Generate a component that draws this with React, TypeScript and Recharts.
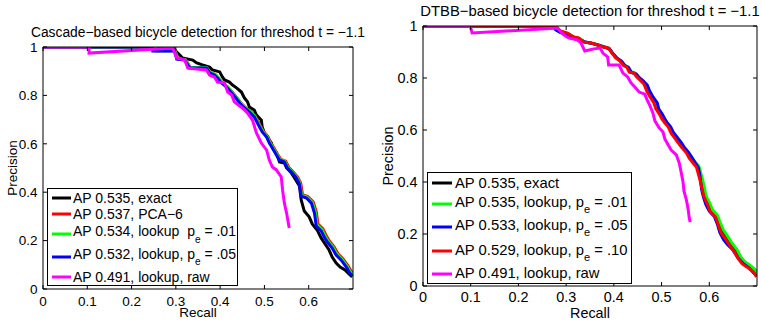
import React from 'react';
import { LineChart, Line, XAxis, YAxis } from 'recharts';

type Pt = { r: number; p: number };
const mk = (a: number[][]): Pt[] => a.map(([r, p]) => ({ r, p }));

// ---------- tick labels ----------
const xTicks = [0, 0.1, 0.2, 0.3, 0.4, 0.5, 0.6];
const yTicks = [0, 0.2, 0.4, 0.6, 0.8, 1];

// ---------- left chart (Cascade) ----------
const leftExact = mk([
  [0, 1], [0.293, 1], [0.302, 0.979], [0.309, 0.967], [0.315, 0.955], [0.338, 0.946], [0.347, 0.934],
  [0.36, 0.926], [0.376, 0.917], [0.383, 0.905], [0.399, 0.897], [0.405, 0.876], [0.41, 0.864],
  [0.421, 0.855], [0.428, 0.843], [0.437, 0.831], [0.448, 0.814], [0.455, 0.789], [0.462, 0.773],
  [0.466, 0.752], [0.477, 0.74], [0.482, 0.719], [0.493, 0.698], [0.495, 0.669], [0.5, 0.645],
  [0.507, 0.624], [0.516, 0.603], [0.518, 0.583], [0.527, 0.562], [0.534, 0.525], [0.545, 0.521],
  [0.55, 0.5], [0.561, 0.479], [0.568, 0.459], [0.579, 0.426], [0.583, 0.368], [0.59, 0.322],
  [0.601, 0.298], [0.608, 0.269], [0.619, 0.244], [0.628, 0.211], [0.637, 0.186], [0.646, 0.161],
  [0.653, 0.132], [0.662, 0.107], [0.671, 0.091], [0.682, 0.079], [0.691, 0.062], [0.698, 0.05],
]);
const leftPca = mk([
  [0, 1], [0.255, 1], [0.255, 0.985], [0.299, 0.985], [0.304, 0.952], [0.322, 0.947], [0.333, 0.915],
  [0.37, 0.914], [0.378, 0.894], [0.389, 0.886], [0.396, 0.873], [0.405, 0.852], [0.416, 0.836],
  [0.428, 0.812], [0.439, 0.787], [0.448, 0.766], [0.457, 0.75], [0.469, 0.733], [0.48, 0.713],
  [0.492, 0.671], [0.498, 0.651], [0.508, 0.63], [0.514, 0.605], [0.521, 0.585], [0.53, 0.556],
  [0.537, 0.536], [0.548, 0.528], [0.555, 0.503], [0.564, 0.486], [0.575, 0.462], [0.582, 0.437],
  [0.586, 0.39], [0.598, 0.382], [0.61, 0.36], [0.617, 0.32], [0.621, 0.268], [0.632, 0.248],
  [0.639, 0.222], [0.646, 0.2], [0.657, 0.175], [0.666, 0.146], [0.677, 0.125], [0.689, 0.096],
  [0.695, 0.076], [0.7, 0.062],
]);
const leftLookup01 = mk([
  [0, 1], [0.252, 1], [0.252, 0.984], [0.298, 0.984], [0.303, 0.953], [0.321, 0.948], [0.332, 0.916],
  [0.369, 0.915], [0.377, 0.895], [0.388, 0.887], [0.395, 0.874], [0.404, 0.854], [0.415, 0.838],
  [0.427, 0.813], [0.438, 0.788], [0.447, 0.767], [0.456, 0.751], [0.467, 0.734], [0.478, 0.714],
  [0.49, 0.672], [0.496, 0.652], [0.506, 0.631], [0.512, 0.606], [0.519, 0.586], [0.528, 0.557],
  [0.535, 0.536], [0.546, 0.528], [0.553, 0.503], [0.562, 0.486], [0.573, 0.462], [0.58, 0.437],
  [0.584, 0.388], [0.596, 0.38], [0.608, 0.358], [0.615, 0.318], [0.619, 0.265], [0.63, 0.245],
  [0.637, 0.219], [0.644, 0.198], [0.655, 0.173], [0.664, 0.144], [0.675, 0.123], [0.687, 0.094],
  [0.693, 0.073], [0.7, 0.06],
]);
const leftLookup05 = mk([
  [0, 1], [0.248, 1], [0.248, 0.983], [0.297, 0.983], [0.302, 0.95], [0.32, 0.946], [0.331, 0.913],
  [0.369, 0.913], [0.376, 0.893], [0.387, 0.884], [0.394, 0.872], [0.403, 0.851], [0.414, 0.835],
  [0.426, 0.81], [0.437, 0.785], [0.446, 0.764], [0.455, 0.748], [0.466, 0.731], [0.477, 0.711],
  [0.489, 0.669], [0.495, 0.649], [0.505, 0.628], [0.511, 0.603], [0.518, 0.583], [0.527, 0.554],
  [0.534, 0.533], [0.545, 0.525], [0.552, 0.5], [0.561, 0.483], [0.572, 0.459], [0.579, 0.434],
  [0.583, 0.384], [0.595, 0.376], [0.606, 0.355], [0.613, 0.314], [0.617, 0.26], [0.628, 0.24],
  [0.635, 0.215], [0.642, 0.194], [0.653, 0.169], [0.662, 0.14], [0.673, 0.12], [0.685, 0.091],
  [0.691, 0.07], [0.698, 0.054],
]);
const leftRaw = mk([
  [0, 1], [0.104, 1], [0.104, 0.975], [0.293, 0.996], [0.302, 0.955], [0.32, 0.946], [0.327, 0.913],
  [0.369, 0.905], [0.376, 0.884], [0.387, 0.876], [0.394, 0.855], [0.41, 0.851], [0.417, 0.814],
  [0.426, 0.802], [0.432, 0.773], [0.45, 0.748], [0.462, 0.727], [0.473, 0.698], [0.482, 0.645],
  [0.493, 0.603], [0.505, 0.574], [0.511, 0.533], [0.518, 0.504], [0.527, 0.492], [0.538, 0.463],
  [0.541, 0.409], [0.545, 0.355], [0.55, 0.314], [0.554, 0.273], [0.556, 0.252],
]);

// ---------- right chart (DTBB) ----------
const rightExact = mk([
  [0, 1], [0.275, 1], [0.282, 0.983], [0.293, 0.974], [0.304, 0.968], [0.315, 0.958], [0.327, 0.951],
  [0.338, 0.939], [0.352, 0.935], [0.367, 0.927], [0.38, 0.918], [0.39, 0.913], [0.397, 0.895],
  [0.405, 0.877], [0.415, 0.864], [0.421, 0.85], [0.429, 0.842], [0.434, 0.823], [0.444, 0.818],
  [0.451, 0.803], [0.458, 0.792], [0.466, 0.776], [0.472, 0.751], [0.479, 0.727], [0.487, 0.704],
  [0.492, 0.681], [0.499, 0.662], [0.505, 0.643], [0.511, 0.628], [0.517, 0.612], [0.523, 0.589],
  [0.529, 0.573], [0.538, 0.551], [0.544, 0.536], [0.554, 0.513], [0.56, 0.494], [0.568, 0.475],
  [0.575, 0.459], [0.579, 0.433], [0.583, 0.406], [0.587, 0.375], [0.591, 0.345], [0.598, 0.318],
  [0.606, 0.288], [0.616, 0.271], [0.621, 0.24], [0.628, 0.208], [0.637, 0.186], [0.645, 0.162],
  [0.656, 0.135], [0.664, 0.11], [0.673, 0.092], [0.685, 0.078], [0.695, 0.063], [0.7, 0.052],
]);
const rightLookup01 = mk([
  [0, 1], [0.28, 1], [0.285, 0.982], [0.296, 0.975], [0.305, 0.97], [0.316, 0.957], [0.328, 0.952],
  [0.339, 0.938], [0.353, 0.934], [0.368, 0.927], [0.38, 0.92], [0.39, 0.914], [0.397, 0.895],
  [0.405, 0.878], [0.414, 0.866], [0.42, 0.852], [0.429, 0.843], [0.434, 0.825], [0.444, 0.819],
  [0.45, 0.805], [0.457, 0.793], [0.465, 0.777], [0.471, 0.752], [0.478, 0.728], [0.486, 0.706],
  [0.491, 0.683], [0.498, 0.664], [0.504, 0.645], [0.51, 0.63], [0.517, 0.614], [0.524, 0.592],
  [0.53, 0.576], [0.539, 0.553], [0.545, 0.538], [0.556, 0.515], [0.562, 0.497], [0.57, 0.478],
  [0.578, 0.462], [0.582, 0.436], [0.586, 0.408], [0.59, 0.377], [0.593, 0.347], [0.6, 0.322],
  [0.607, 0.292], [0.617, 0.272], [0.623, 0.243], [0.63, 0.214], [0.639, 0.19], [0.647, 0.166],
  [0.658, 0.14], [0.666, 0.112], [0.674, 0.094], [0.686, 0.078], [0.696, 0.062], [0.7, 0.05],
]);
const rightLookup05 = mk([
  [0, 1], [0.271, 1], [0.278, 0.985], [0.288, 0.975], [0.301, 0.97], [0.314, 0.957], [0.326, 0.95],
  [0.337, 0.94], [0.352, 0.934], [0.366, 0.927], [0.381, 0.919], [0.391, 0.912], [0.398, 0.894],
  [0.407, 0.876], [0.416, 0.865], [0.423, 0.848], [0.431, 0.84], [0.437, 0.821], [0.447, 0.815],
  [0.454, 0.8], [0.461, 0.79], [0.47, 0.773], [0.475, 0.75], [0.482, 0.727], [0.491, 0.704],
  [0.494, 0.681], [0.501, 0.662], [0.507, 0.642], [0.512, 0.627], [0.519, 0.612], [0.525, 0.59],
  [0.532, 0.573], [0.541, 0.552], [0.547, 0.535], [0.556, 0.515], [0.563, 0.496], [0.57, 0.475],
  [0.577, 0.455], [0.58, 0.43], [0.582, 0.4], [0.584, 0.37], [0.588, 0.34], [0.593, 0.313],
  [0.6, 0.288], [0.611, 0.266], [0.617, 0.238], [0.622, 0.206], [0.63, 0.178], [0.638, 0.16],
  [0.649, 0.14], [0.66, 0.108], [0.67, 0.088], [0.683, 0.07], [0.693, 0.05], [0.699, 0.04],
]);
const rightLookup10 = mk([
  [0, 1], [0.278, 1], [0.288, 0.981], [0.303, 0.973], [0.316, 0.958], [0.326, 0.954], [0.337, 0.938],
  [0.352, 0.935], [0.366, 0.927], [0.379, 0.919], [0.389, 0.915], [0.396, 0.896], [0.404, 0.877],
  [0.413, 0.865], [0.419, 0.85], [0.427, 0.842], [0.432, 0.823], [0.442, 0.819], [0.448, 0.804],
  [0.455, 0.792], [0.463, 0.777], [0.469, 0.75], [0.476, 0.727], [0.484, 0.704], [0.488, 0.681],
  [0.495, 0.662], [0.501, 0.642], [0.507, 0.627], [0.514, 0.612], [0.52, 0.588], [0.526, 0.573],
  [0.535, 0.55], [0.541, 0.535], [0.552, 0.512], [0.558, 0.492], [0.566, 0.473], [0.573, 0.458],
  [0.577, 0.431], [0.581, 0.404], [0.585, 0.373], [0.589, 0.342], [0.596, 0.315], [0.602, 0.285],
  [0.613, 0.265], [0.619, 0.235], [0.625, 0.204], [0.634, 0.181], [0.642, 0.158], [0.653, 0.131],
  [0.661, 0.104], [0.669, 0.085], [0.682, 0.069], [0.693, 0.054], [0.699, 0.035],
]);
const rightRaw = mk([
  [0, 1], [0.099, 1], [0.103, 0.973], [0.282, 0.992], [0.293, 0.969], [0.305, 0.954], [0.324, 0.946],
  [0.331, 0.935], [0.339, 0.904], [0.358, 0.912], [0.371, 0.915], [0.377, 0.896], [0.387, 0.881],
  [0.389, 0.85], [0.411, 0.85], [0.419, 0.819], [0.429, 0.804], [0.436, 0.781], [0.444, 0.765],
  [0.453, 0.746], [0.465, 0.738], [0.469, 0.719], [0.476, 0.692], [0.482, 0.665], [0.486, 0.635],
  [0.495, 0.608], [0.503, 0.592], [0.507, 0.565], [0.514, 0.542], [0.52, 0.523], [0.531, 0.504],
  [0.537, 0.473], [0.541, 0.438], [0.545, 0.4], [0.547, 0.365], [0.552, 0.331], [0.556, 0.292],
  [0.558, 0.262], [0.56, 0.246],
]);

const FONT = '"Liberation Sans", Arial, Helvetica, sans-serif';
const fmt = (v: number) => String(v);

type Series = { data: Pt[]; color: string };

const BottomTick = (props: any) => {
  const { x, y, payload, fs, dy } = props;
  return (
    <g>
      <line x1={x} x2={x} y1={y} y2={y - 4} stroke="#000" strokeWidth={1} />
      <text x={x} y={y + dy} textAnchor="middle" fontSize={fs} fontFamily={FONT} fill="#000">
        {fmt(payload.value)}
      </text>
    </g>
  );
};
const TopTick = (props: any) => {
  const { x, y } = props;
  return <line x1={x} x2={x} y1={y} y2={y + 4} stroke="#000" strokeWidth={1} />;
};
const LeftTick = (props: any) => {
  const { x, y, payload, fs, gap } = props;
  return (
    <g>
      <line x1={x} x2={x + 4} y1={y} y2={y} stroke="#000" strokeWidth={1} />
      <text x={x - gap} y={y + fs * 0.36} textAnchor="end" fontSize={fs} fontFamily={FONT} fill="#000">
        {fmt(payload.value)}
      </text>
    </g>
  );
};
const RightTick = (props: any) => {
  const { x, y } = props;
  return <line x1={x} x2={x - 4} y1={y} y2={y} stroke="#000" strokeWidth={1} />;
};

type PanelProps = {
  left: number;
  width: number;
  top: number;
  bottom: number;
  rightW: number;
  series: Series[];
  fs: number;
  tickDy: number;
  yGap: number;
  recallDy: number;
  precX: number;
};

const Panel = ({ left, width, top, bottom, rightW, series, fs, tickDy, yGap, recallDy, precX }: PanelProps) => (
  <div style={{ position: 'absolute', left, top: 0, width, height: 324 }}>
    <LineChart width={width} height={324} margin={{ top: top - 2, right: 0, bottom: 0, left: 0 }}>
      <XAxis
        xAxisId="b"
        dataKey="r"
        type="number"
        domain={[0, 0.7]}
        ticks={xTicks}
        allowDataOverflow
        height={324 - bottom}
        axisLine={{ stroke: '#000' }}
        tickLine={false}
        tickSize={0}
        tickMargin={0}
        interval={0}
        tick={(p: any) => <BottomTick {...p} fs={fs} dy={tickDy} />}
        label={(lp: any) => {
          const vb = lp.viewBox || {};
          return (
            <text x={vb.x + vb.width / 2} y={vb.y + recallDy} textAnchor="middle" fontSize={fs} fontFamily={FONT} fill="#000">
              Recall
            </text>
          );
        }}
      />
      <XAxis
        xAxisId="t"
        orientation="top"
        dataKey="r"
        type="number"
        domain={[0, 0.7]}
        ticks={xTicks}
        allowDataOverflow
        height={2}
        axisLine={{ stroke: '#000' }}
        tickLine={false}
        tickSize={0}
        tickMargin={0}
        interval={0}
        tick={(p: any) => <TopTick {...p} />}
      />
      <YAxis
        yAxisId="l"
        type="number"
        domain={[0, 1]}
        ticks={yTicks}
        allowDataOverflow
        width={43}
        axisLine={{ stroke: '#000' }}
        tickLine={false}
        tickSize={0}
        tickMargin={0}
        interval={0}
        tick={(p: any) => <LeftTick {...p} fs={fs} gap={yGap} />}
        label={(lp: any) => {
          const vb = lp.viewBox || {};
          const cy = vb.y + vb.height / 2;
          return (
            <text
              x={precX}
              y={cy}
              transform={`rotate(-90 ${precX} ${cy})`}
              textAnchor="middle"
              fontSize={fs}
              fontFamily={FONT}
              fill="#000"
            >
              Precision
            </text>
          );
        }}
      />
      <YAxis
        yAxisId="r"
        orientation="right"
        type="number"
        domain={[0, 1]}
        ticks={yTicks}
        allowDataOverflow
        width={rightW}
        axisLine={{ stroke: '#000' }}
        tickLine={false}
        tickSize={0}
        tickMargin={0}
        interval={0}
        tick={(p: any) => <RightTick {...p} />}
      />
      {series.map((s, i) => (
        <Line
          key={i}
          xAxisId="b"
          yAxisId="l"
          data={s.data}
          dataKey="p"
          type="linear"
          stroke={s.color}
          strokeWidth={3}
          dot={false}
          activeDot={false}
          isAnimationActive={false}
          strokeLinejoin="miter"
        />
      ))}
    </LineChart>
  </div>
);

const Sub = ({ base, sub, rest, subFs, shift }: any) => (
  <>
    {base}
    <tspan dy={shift} fontSize={subFs}>{sub}</tspan>
    <tspan dy={-shift}>{rest}</tspan>
  </>
);

export default function App() {
  const leftSeries: Series[] = [
    { data: leftExact, color: '#000000' },
    { data: leftPca, color: '#ff0000' },
    { data: leftLookup01, color: '#00ff00' },
    { data: leftLookup05, color: '#0000ff' },
    { data: leftRaw, color: '#ff00ff' },
  ];
  const rightSeries: Series[] = [
    { data: rightExact, color: '#000000' },
    { data: rightLookup01, color: '#00ff00' },
    { data: rightLookup05, color: '#0000ff' },
    { data: rightLookup10, color: '#ff0000' },
    { data: rightRaw, color: '#ff00ff' },
  ];

  const lfs = 14;
  const rfs = 14.8;

  return (
    <div style={{ position: 'absolute', left: 0, top: 0, width: 761, height: 324, background: '#fff', overflow: 'hidden' }}>
      <Panel left={0} width={353 + 2} top={47} bottom={289} rightW={2} series={leftSeries} fs={13.5} tickDy={16.5} yGap={5.5} recallDy={28} precX={17} />
      <Panel left={380} width={377 + 2} top={26} bottom={286} rightW={2} series={rightSeries} fs={14.4} tickDy={16} yGap={5.5} recallDy={32} precX={13} />
      <svg width={761} height={324} style={{ position: 'absolute', left: 0, top: 0, pointerEvents: 'none' }} fontFamily={FONT}>
        <text x={198} y={36.5} textAnchor="middle" fontSize={13.8} fill="#000">
          Cascade−based bicycle detection for threshod t = −1.1
        </text>
        <text x={590} y={15.5} textAnchor="middle" fontSize={14.8} fill="#000">
          DTBB−based bicycle detection for threshod t = −1.1
        </text>

        {/* left legend */}
        <rect x={47.5} y={188.5} width={190} height={97} fill="#fff" stroke="#000" strokeWidth={1} />
        <g fontSize={lfs} fill="#000">
          <line x1={52} x2={71} y1={198} y2={198} stroke="#000000" strokeWidth={3} />
          <text x={73} y={203}>AP 0.535, exact</text>
          <line x1={52} x2={71} y1={214} y2={214} stroke="#ff0000" strokeWidth={3} />
          <text x={73} y={219}>AP 0.537, PCA−6</text>
          <line x1={52} x2={71} y1={234} y2={234} stroke="#00ff00" strokeWidth={3} />
          <text x={73} y={236}>
            <Sub base={'AP 0.534, lookup\u00A0 p'} sub="e" rest=" = .01" subFs={10} shift={7} />
          </text>
          <line x1={52} x2={71} y1={257} y2={257} stroke="#0000ff" strokeWidth={3} />
          <text x={73} y={259}>
            <Sub base="AP 0.532, lookup, p" sub="e" rest=" = .05" subFs={10} shift={6} />
          </text>
          <line x1={52} x2={71} y1={277} y2={277} stroke="#ff00ff" strokeWidth={3} />
          <text x={73} y={282}>AP 0.491, lookup, raw</text>
        </g>

        {/* right legend */}
        <rect x={427.5} y={172.5} width={204} height={111} fill="#fff" stroke="#000" strokeWidth={1} />
        <g fontSize={rfs} fill="#000">
          <line x1={432} x2={452} y1={183} y2={183} stroke="#000000" strokeWidth={3} />
          <text x={455} y={188}>AP 0.535, exact</text>
          <line x1={432} x2={452} y1={204} y2={204} stroke="#00ff00" strokeWidth={3} />
          <text x={455} y={207}>
            <Sub base="AP 0.535, lookup, p" sub="e" rest=" = .01" subFs={11} shift={6} />
          </text>
          <line x1={432} x2={452} y1={227} y2={227} stroke="#0000ff" strokeWidth={3} />
          <text x={455} y={230}>
            <Sub base="AP 0.533, lookup, p" sub="e" rest=" = .05" subFs={11} shift={6} />
          </text>
          <line x1={432} x2={452} y1={251} y2={251} stroke="#ff0000" strokeWidth={3} />
          <text x={455} y={255}>
            <Sub base="AP 0.529, lookup, p" sub="e" rest=" = .10" subFs={11} shift={6} />
          </text>
          <line x1={432} x2={452} y1={274} y2={274} stroke="#ff00ff" strokeWidth={3} />
          <text x={455} y={277.5}>AP 0.491, lookup, raw</text>
        </g>
      </svg>
    </div>
  );
}
